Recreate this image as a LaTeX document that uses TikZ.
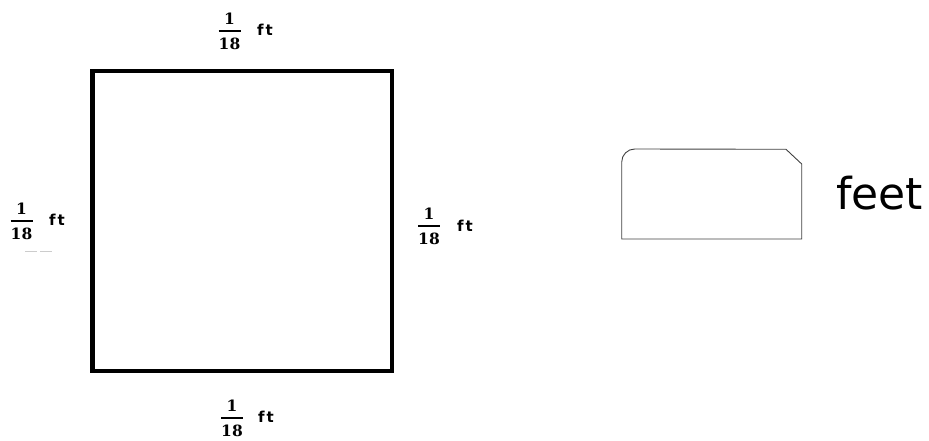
\documentclass[tikz,border=0pt]{standalone}
\usepackage{fontspec}
\newfontfamily\labelfont{DejaVu Sans}
\newfontfamily\feetfont{DejaVu Sans}
\newfontfamily\digitfont{DejaVu Serif}
\tikzset{
  num/.style={font=\digitfont\fontsize{15.5}{16}\selectfont\bfseries, inner sep=0pt, anchor=center},
  unit/.style={font=\labelfont\fontsize{15}{16}\selectfont\bfseries, inner sep=0pt, anchor=center},
  fracbar/.style={line width=1.5pt},
  squareside/.style={line width=4.2pt, draw=black},
  answerbox/.style={draw=black!75, line width=0.9pt}
}
% #1 name prefix, #2 x of bar centre, #3 y of bar, #4 x of ft, #5 y of ft
\newcommand{\fraclabel}[5]{%
  \node[num] (#1n) at (#2,#3-12) {1};
  \node[num] (#1d) at (#2,#3+12.5) {18};
  \coordinate (#1l) at (#2-11,#3);
  \coordinate (#1r) at (#2+11,#3);
  \draw[fracbar] (#1l) -- (#1r);
  \node[unit] (#1u) at (#4,#5) {f\kern2pt t};
}
\begin{document}
\begin{tikzpicture}[x=1pt,y=-1pt]
\useasboundingbox (0,0) rectangle (929,441);
% square
\coordinate (sqA) at (92.5,71);
\coordinate (sqB) at (392,371);
\draw[squareside] (sqA) rectangle (sqB);
% labels
\fraclabel{top}{229.5}{31}{265}{30}
\fraclabel{lft}{21.5}{221}{57}{220}
\fraclabel{rgt}{429}{226}{465}{226}
\fraclabel{bot}{232}{418}{266}{417}
% faint smudge under left label
\draw[black!20, line width=1pt] (25,251) -- (37,251) (40,251) -- (52,251);
% answer box
\coordinate (b1) at (621.7,239);
\coordinate (b2) at (621.7,162);
\coordinate (b4) at (786,149.3);
\coordinate (b5) at (801.7,164);
\coordinate (b6) at (801.7,239);
\draw[answerbox] (b1) -- (b2) arc[start angle=180, end angle=270, radius=13] -- (b4) -- (b5) -- (b6) -- cycle;
\node[font=\feetfont\fontsize{44}{44}\selectfont, inner sep=0pt, anchor=base west] (feet) at (836,209) {feet};
\end{tikzpicture}
\end{document}
